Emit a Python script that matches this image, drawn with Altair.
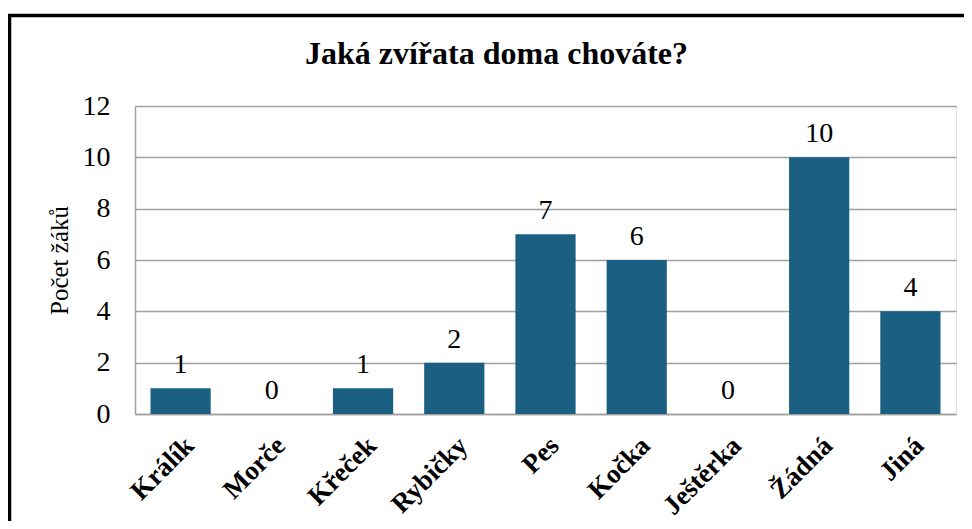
import altair as alt
import pandas as pd

categories = ["Králík", "Morče", "Křeček", "Rybičky", "Pes", "Kočka", "Ještěrka", "Žádná", "Jiná"]
values = [1, 0, 1, 2, 7, 6, 0, 10, 4]

df = pd.DataFrame({"zvire": categories, "pocet": values})

W, H = 821, 308
SERIF = "Times New Roman, Liberation Serif, serif"

x_enc = alt.X(
    "zvire:N",
    sort=categories,
    scale=alt.Scale(paddingInner=0.34, paddingOuter=0.17),
    axis=alt.Axis(
        title=None,
        labelAngle=-45,
        labelAlign="right",
        labelBaseline="top",
        labelPadding=18,
        labelFont=SERIF,
        labelFontSize=27,
        labelFontWeight="bold",
        labelColor="black",
        ticks=False,
        domainColor="#a0a0a0",
        domainWidth=1.5,
    ),
)

y_enc = alt.Y(
    "pocet:Q",
    scale=alt.Scale(domain=[0, 12]),
    axis=alt.Axis(
        values=[0, 2, 4, 6, 8, 10, 12],
        title="Počet žáků",
        titleFont=SERIF,
        titleFontSize=25,
        titleFontWeight="normal",
        titleColor="black",
        titleAngle=-90,
        titleX=-76,
        titleY=H / 2,
        titleAlign="center",
        titleBaseline="middle",
        labelFont=SERIF,
        labelFontSize=28,
        labelColor="black",
        labelPadding=25,
        ticks=False,
        domainColor="#a0a0a0",
        domainWidth=1.5,
        grid=True,
        gridColor="#a0a0a0",
        gridWidth=1.5,
    ),
)

base = alt.Chart(df)

bars = base.mark_bar(color="#1b5f83").encode(x=x_enc, y=y_enc)

labels = base.mark_text(
    font=SERIF, fontSize=28, color="black", baseline="alphabetic", dy=-15
).encode(x=alt.X("zvire:N", sort=categories), y=alt.Y("pocet:Q"), text=alt.Text("pocet:Q"))

frame = alt.Chart(pd.DataFrame({"a": [0]})).mark_rect(
    filled=False, stroke="black", strokeWidth=3.5
).encode(
    x=alt.value(-125.5), x2=alt.value(W + 60), y=alt.value(-90.5), y2=alt.value(H + 250)
)

chart = alt.layer(frame, bars, labels).properties(
    width=W,
    height=H,
    title=alt.TitleParams(
        "Jaká zvířata doma chováte?",
        font=SERIF,
        fontSize=32,
        fontWeight="bold",
        color="black",
        anchor="middle",
        frame="group",
        baseline="alphabetic",
        offset=-82,
        dx=-49,
    ),
    autosize=alt.AutoSizeParams(type="none"),
    padding={"left": 127, "top": 98, "right": 8, "bottom": 107},
).configure_view(stroke=None).configure(background="white")

chart.save("out.html", embed_options={"renderer": "svg", "actions": False})
